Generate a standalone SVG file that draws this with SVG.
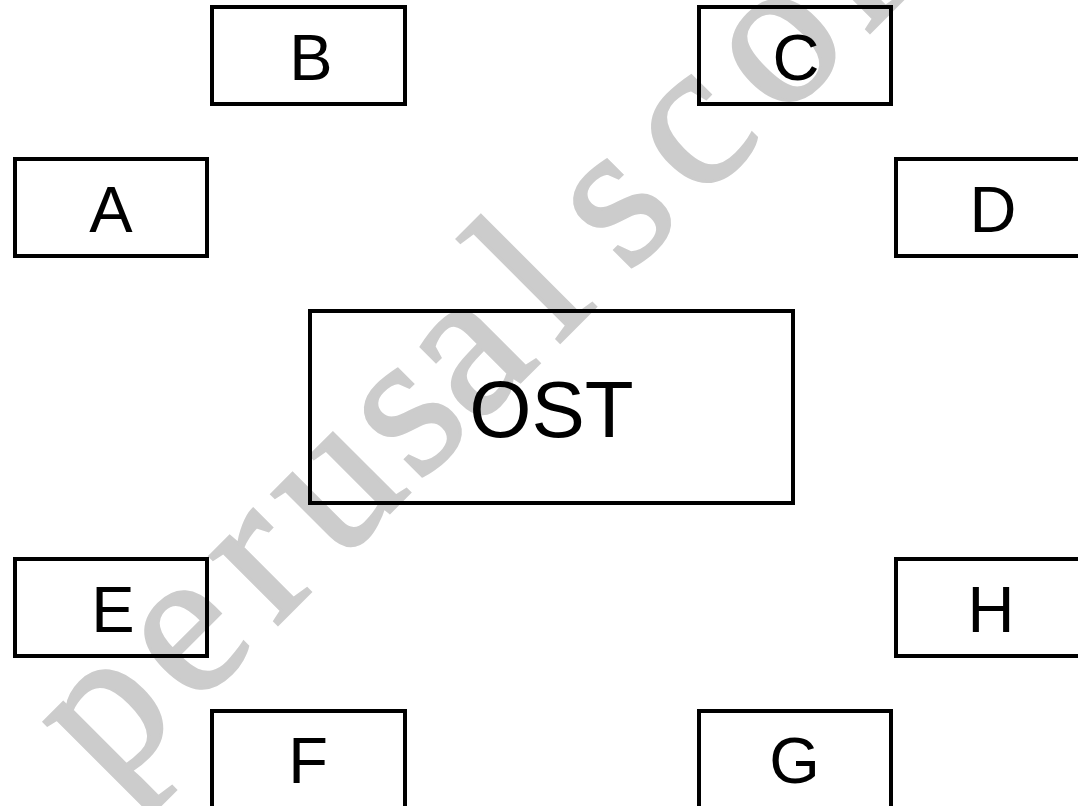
<svg xmlns="http://www.w3.org/2000/svg" width="1078" height="806" viewBox="0 0 1078 806">
<style>
.box{fill:none;stroke:#000;stroke-width:4}
.lbl{font-family:"Liberation Sans",Arial,sans-serif;font-size:65px;fill:#000;text-anchor:middle}
.big{font-size:80px}
.wm{font-family:"Liberation Serif","Times New Roman",serif;font-size:210px;fill:#cccccc;stroke:#cccccc;stroke-width:3}
</style>
<rect width="1078" height="806" fill="#fff"/>
<text class="wm" transform="rotate(-45)" y="638" x="-484 -364 -249 -160 -47 34 150 208 249 351 466 588 675">perusal score</text>
<g id="connectors"></g>
<g id="node-B"><rect class="box" x="212" y="7" width="193" height="97"/><text class="lbl" x="311" y="80">B</text></g>
<g id="node-C"><rect class="box" x="699" y="7" width="192" height="97"/><text class="lbl" x="796" y="80">C</text></g>
<g id="node-A"><rect class="box" x="15" y="159" width="192" height="97"/><text class="lbl" x="111" y="232">A</text></g>
<g id="node-D"><rect class="box" x="896" y="159" width="190" height="97"/><text class="lbl" x="993" y="232">D</text></g>
<g id="node-OST"><rect class="box" x="310" y="311" width="483" height="192"/><text class="lbl big" x="551.5" y="437">OST</text></g>
<g id="node-E"><rect class="box" x="15" y="559" width="192" height="97"/><text class="lbl" x="113" y="632">E</text></g>
<g id="node-H"><rect class="box" x="896" y="559" width="190" height="97"/><text class="lbl" x="991" y="632">H</text></g>
<g id="node-F"><rect class="box" x="212" y="711" width="193" height="100"/><text class="lbl" x="308" y="783">F</text></g>
<g id="node-G"><rect class="box" x="699" y="711" width="192" height="100"/><text class="lbl" x="794.5" y="783">G</text></g>
</svg>
